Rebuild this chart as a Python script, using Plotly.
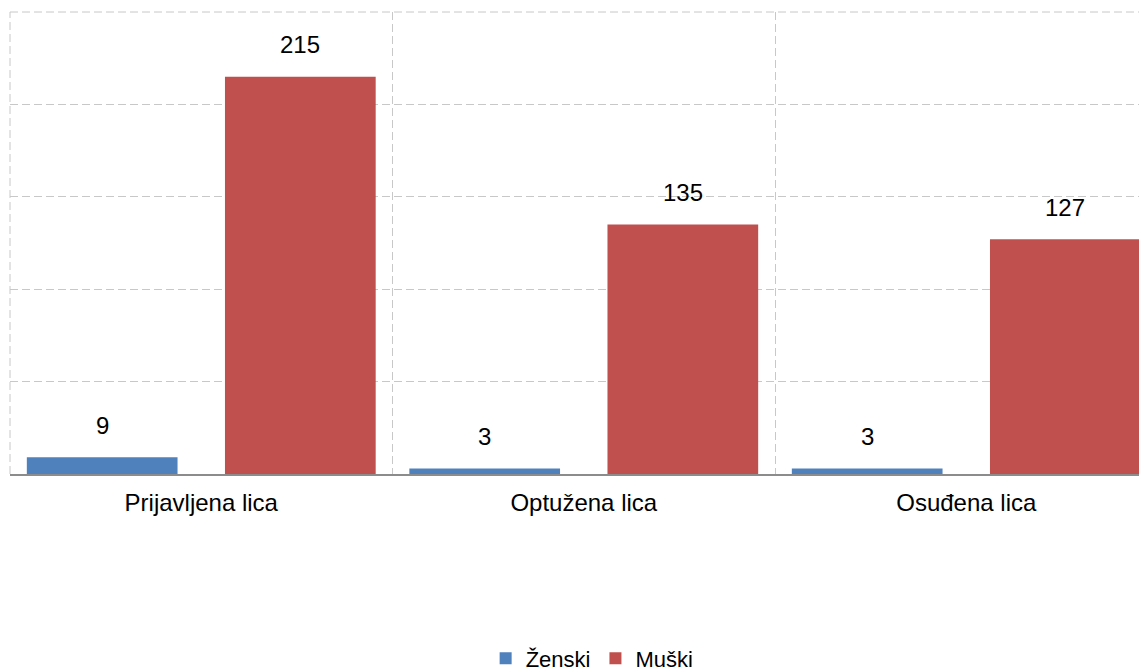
import plotly.graph_objects as go

categories = ["Prijavljena lica", "Optužena lica", "Osuđena lica"]
zenski = [9, 3, 3]
muski = [215, 135, 127]
series_names = ["Ženski", "Muški"]

BLUE = "#4F81BD"
RED = "#C0504D"
GRID = "#c8c8c8"
DASH = "8px,4px"
FONT = "Liberation Sans, Arial, sans-serif"

bar_w = 0.394
offsets = [-0.456, 0.062]

fig = go.Figure()
fig.add_trace(go.Bar(x=categories, y=zenski, name=series_names[0], marker_color=BLUE,
                     width=bar_w, offset=offsets[0], marker_line_width=0))
fig.add_trace(go.Bar(x=categories, y=muski, name=series_names[1], marker_color=RED,
                     width=bar_w, offset=offsets[1], marker_line_width=0))

annotations = []
for vals, off in ((zenski, offsets[0]), (muski, offsets[1])):
    for i, v in enumerate(vals):
        annotations.append(dict(x=i + off + bar_w / 2, y=v, xref="x", yref="y",
                                text=str(v), showarrow=False, yanchor="middle",
                                yshift=32, font=dict(size=24, color="#000000", family=FONT)))

shapes = [
    dict(type="line", xref="paper", yref="paper", x0=0, x1=1, y0=1, y1=1,
         line=dict(color=GRID, width=1, dash=DASH), layer="below"),
    dict(type="line", xref="paper", yref="paper", x0=0, x1=0, y0=0, y1=1,
         line=dict(color=GRID, width=1, dash=DASH), layer="below"),
]

fig.update_layout(
    width=1139, height=664,
    margin=dict(l=2, r=0, t=4, b=198, autoexpand=False),
    paper_bgcolor="white", plot_bgcolor="white",
    barmode="group",
    font=dict(family=FONT, size=24, color="#000000"),
    annotations=annotations,
    shapes=shapes,
    showlegend=True,
    legend=dict(orientation="h", x=0.512, xanchor="center", y=-0.399, yanchor="middle",
                font=dict(size=22, color="#000000"), itemwidth=30, traceorder="normal",
                tracegroupgap=0),
    xaxis=dict(type="category", range=[-0.5, 2.4725], tickson="boundaries", automargin=False,
               showgrid=True, gridcolor=GRID, griddash=DASH, gridwidth=1,
               showline=True, linecolor="#8c8c8c", linewidth=2, ticks="",
               ticklabelstandoff=6, tickfont=dict(size=24, color="#000000", family=FONT)),
    yaxis=dict(range=[0, 250], dtick=50, showgrid=True, gridcolor=GRID, automargin=False,
               griddash=DASH, gridwidth=1, zeroline=False, showticklabels=False,
               ticks="", showline=False),
)

fig.write_html("out.html")
